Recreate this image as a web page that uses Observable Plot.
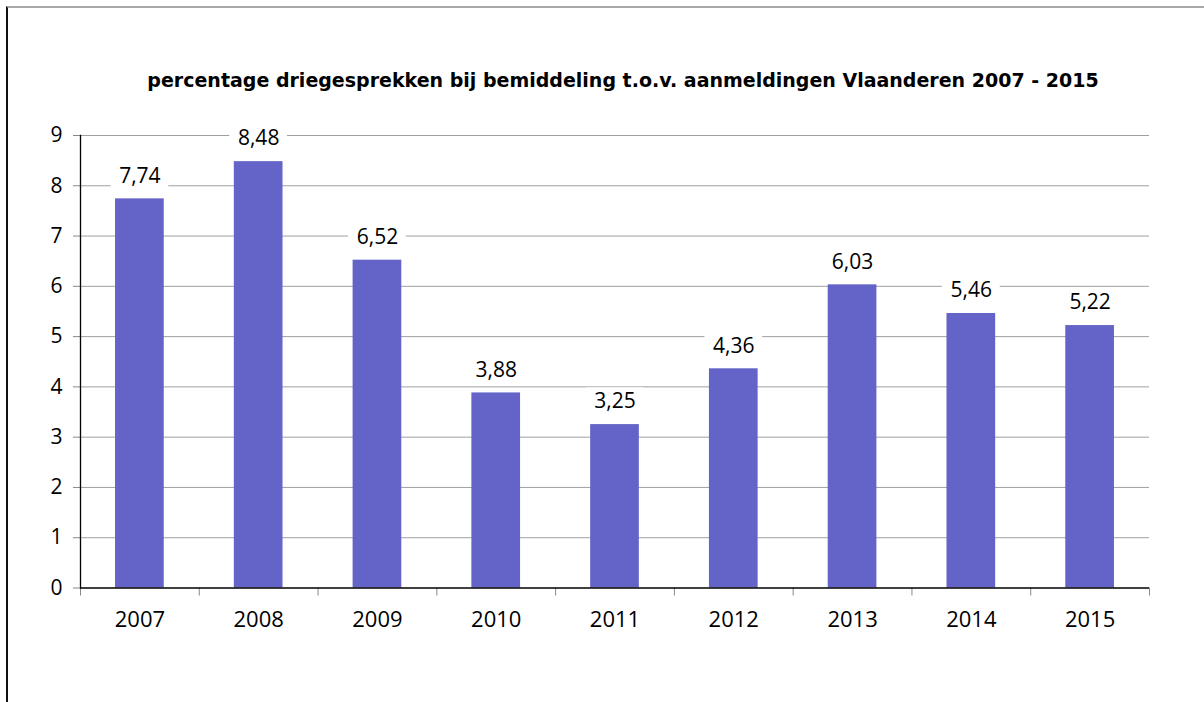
<!DOCTYPE html>
<html><head><meta charset="utf-8">
<script src="https://cdn.jsdelivr.net/npm/d3@7"></script>
<script src="https://cdn.jsdelivr.net/npm/@observablehq/plot@0.6"></script>
<style>
html,body{margin:0;padding:0;background:#fff}
body{width:1204px;height:702px;overflow:hidden;position:relative}
#frame{position:absolute;left:6px;top:6px;width:1198px;height:696px;border-left:2px solid #111;border-top:2px solid #a8a8a8;box-sizing:border-box;z-index:2;pointer-events:none}
#title{position:absolute;left:42px;top:70px;width:1162px;text-align:center;font-family:"DejaVu Sans";font-weight:bold;font-size:19px;line-height:20px;color:#000;white-space:nowrap}
#chart{position:absolute;left:0;top:105px}
</style>
</head><body>
<div id="frame"></div>
<div id="title">percentage driegesprekken bij bemiddeling t.o.v. aanmeldingen Vlaanderen 2007 - 2015</div>
<div id="chart"></div>
<script>
const years = ["2007","2008","2009","2010","2011","2012","2013","2014","2015"];
const values = [7.74, 8.48, 6.52, 3.88, 3.25, 4.36, 6.03, 5.46, 5.22];
const yTicks = [0,1,2,3,4,5,6,7,8,9];

const data = years.map((y, i) => ({year: y, value: values[i]}));
const W = 1204, H = 597, mL = 80, mR = 55, mT = 30, mB = 114.5;
const step = (W - mL - mR) / years.length;
const fmt = v => v.toFixed(2).replace(".", ",");
const font = "Open Sans";

const plot = Plot.plot({
  width: W, height: H,
  marginLeft: mL, marginRight: mR, marginTop: mT, marginBottom: mB,
  style: {fontFamily: font, fontSize: "21px", color: "#000", background: "transparent"},
  x: {type: "band", domain: years, paddingInner: 0.59, paddingOuter: 0.295, round: false},
  y: {domain: [0, 9]},
  marks: [
    Plot.ruleY(yTicks.slice(1), {stroke: "#a0a0a0", strokeWidth: 1}),
    Plot.barY(data, {x: "year", y: "value", fill: "#6464c8"}),
    Plot.barY(data, {x: "year", y1: d => d.value + 0.2, y2: d => d.value + 0.73, fill: "white", insetLeft: -4.5, insetRight: -4.5}),
    Plot.text(data, {x: "year", y: "value", text: d => fmt(d.value), dy: -23, fontSize: 21, fill: "#000"}),
    Plot.axisY({ticks: yTicks, tickSize: 7, tickPadding: 11, stroke: "#888", fontSize: 21, tickFormat: d => String(d), label: null}),
    Plot.axisX({tickSize: 8, dx: -step / 2, stroke: "#888", text: null, label: null}),
    Plot.axisX({ticks: [years[years.length - 1]], tickSize: 8, dx: step / 2, stroke: "#888", text: null, label: null}),
    Plot.axisX({tickSize: 0, tickPadding: 23, fontSize: 22, label: null}),
    Plot.ruleY([0], {stroke: "#000", strokeWidth: 1.3}),
    Plot.frame({anchor: "left", stroke: "#000", strokeWidth: 1.3})
  ]
});
document.getElementById("chart").appendChild(plot);
</script>
</body></html>
